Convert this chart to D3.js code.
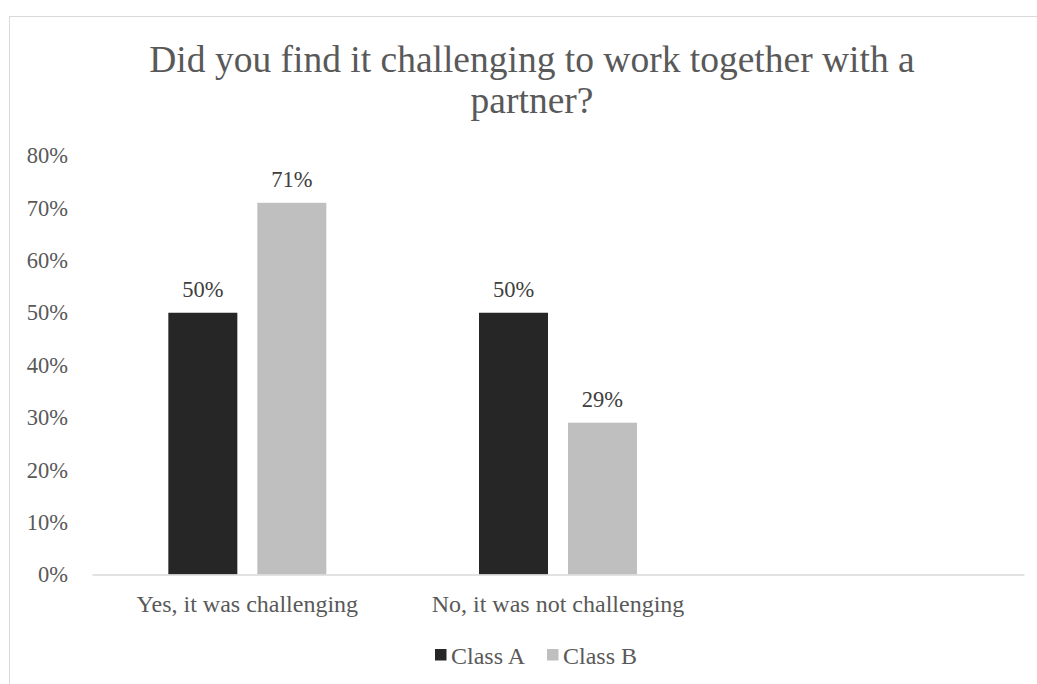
<!DOCTYPE html>
<html><head><meta charset="utf-8">
<script src="https://cdn.jsdelivr.net/npm/d3@7"></script>
<style>body{margin:0;background:#fff}svg{display:block}</style>
</head><body>
<svg id="c" width="1037" height="684"></svg>
<script>
const categories = ["Yes, it was challenging", "No, it was not challenging", ""];
const seriesNames = ["Class A", "Class B"];
const classA = [0.50, 0.50, null];
const classB = [0.71, 0.29, null];
const yTicks = [0, 0.1, 0.2, 0.3, 0.4, 0.5, 0.6, 0.7, 0.8];
const colors = ["#262626", "#bfbfbf"];

const svg = d3.select("#c");
const font = "'Liberation Serif','Times New Roman',serif";
svg.append("rect").attr("x", 9.5).attr("y", 16.5).attr("width", 1100).attr("height", 800)
  .attr("fill", "#fff").attr("stroke", "#d9d9d9");

const m = {l: 92, r: 1024, t: 155.7, b: 574.5};
const x = d3.scaleBand().domain(categories).range([m.l, m.r]).paddingInner(0).paddingOuter(0);
const xs = d3.scaleBand().domain(seriesNames).range([0, x.bandwidth()]).paddingInner(0.2247).paddingOuter(0.8577);
const y = d3.scaleLinear().domain([0, 0.8]).range([m.b, m.t]);

svg.append("text").attr("x", 532).attr("y", 72).attr("text-anchor", "middle")
  .attr("font-family", font).attr("font-size", 37.5).attr("fill", "#595959")
  .text("Did you find it challenging to work together with a");
svg.append("text").attr("x", 532).attr("y", 113).attr("text-anchor", "middle")
  .attr("font-family", font).attr("font-size", 37.5).attr("fill", "#595959")
  .text("partner?");

const yAxis = svg.append("g").attr("transform", `translate(${m.l},0)`)
  .call(d3.axisLeft(y).tickValues(yTicks).tickFormat(d3.format(".0%")).tickSize(0).tickPadding(24));
yAxis.select(".domain").remove();
yAxis.selectAll("text").attr("font-family", font).attr("font-size", 22.5).attr("fill", "#595959");

const data = [];
categories.forEach((c, i) => {
  [classA, classB].forEach((s, j) => {
    if (s[i] != null) data.push({c, s: seriesNames[j], v: s[i], col: colors[j]});
  });
});

svg.selectAll("rect.bar").data(data).enter().append("rect").attr("class", "bar")
  .attr("x", d => x(d.c) + xs(d.s)).attr("width", xs.bandwidth())
  .attr("y", d => y(d.v)).attr("height", d => y(0) - y(d.v)).attr("fill", d => d.col);

svg.selectAll("text.lbl").data(data).enter().append("text").attr("class", "lbl")
  .attr("x", d => x(d.c) + xs(d.s) + xs.bandwidth() / 2).attr("y", d => y(d.v) - 16)
  .attr("text-anchor", "middle").attr("font-family", font).attr("font-size", 22.5).attr("fill", "#404040")
  .text(d => d3.format(".0%")(d.v));

const xAxis = svg.append("g").attr("transform", `translate(0,${m.b})`)
  .call(d3.axisBottom(x).tickSize(0).tickPadding(20));
xAxis.select(".domain").attr("stroke", "#d9d9d9").attr("stroke-width", 1.5);
xAxis.selectAll("text").attr("font-family", font).attr("font-size", 24).attr("fill", "#595959");

const legend = svg.append("g");
const lx = [435, 547];
seriesNames.forEach((n, i) => {
  legend.append("rect").attr("x", lx[i]).attr("y", 649).attr("width", 11.5).attr("height", 11.5).attr("fill", colors[i]);
  legend.append("text").attr("x", lx[i] + 16).attr("y", 664).attr("font-family", font).attr("font-size", 24)
    .attr("fill", "#595959").text(n);
});
</script>
</body></html>
